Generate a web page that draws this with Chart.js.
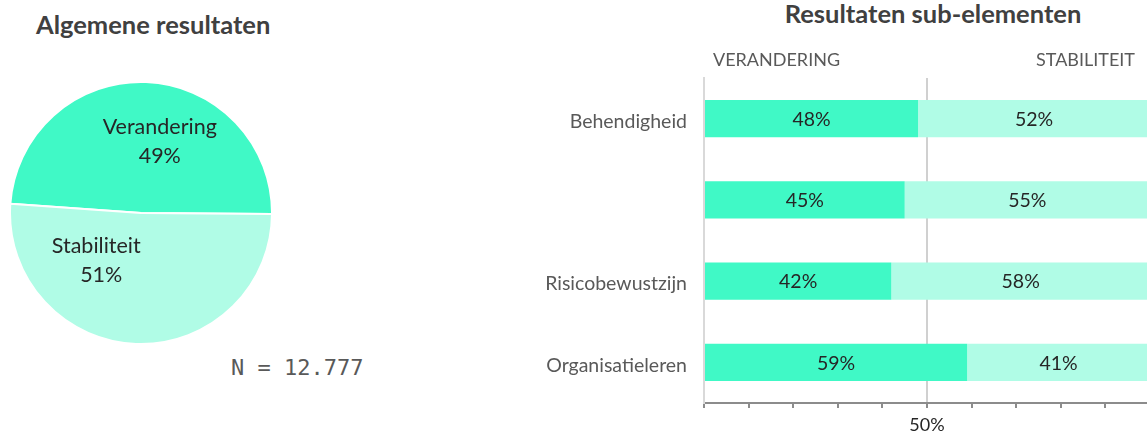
<!DOCTYPE html>
<html>
<head>
<meta charset="utf-8">
<script src="https://cdn.jsdelivr.net/npm/chart.js@4/dist/chart.umd.min.js"></script>
<style>
  html, body { margin: 0; padding: 0; background: #fff; overflow: hidden; }
  body { width: 1147px; height: 434px; position: relative; font-family: Lato, "Open Sans", sans-serif; }
  .title { position: absolute; font-weight: bold; color: #404040; font-size: 25.5px; white-space: nowrap; }
  #pieWrap { position: absolute; left: 9px; top: 81px; width: 264px; height: 264px; }
  #barWrap { position: absolute; left: 500px; top: 0; width: 660px; height: 434px; }
  #count { position: absolute; left: 231px; top: 355px; font-family: "DejaVu Sans Mono", monospace; font-size: 22px; color: #595959; white-space: nowrap; }
</style>
</head>
<body>
<div class="title" style="left:36px; top:9px;">Algemene resultaten</div>
<div class="title" style="left:933px; top:-2px; transform:translateX(-50%);">Resultaten sub-elementen</div>
<div id="pieWrap"><canvas id="pie"></canvas></div>
<div id="barWrap"><canvas id="bars"></canvas></div>
<div id="count">N = 12.777</div>

<script>
// overall split
const PIE_LABELS = ['Verandering', 'Stabiliteit'];
const PIE_VALUES = [49, 51];

// per sub-element split
const CATEGORIES = ['Behendigheid', '', 'Risicobewustzijn', 'Organisatieleren'];
const VERANDERING = [48, 45, 42, 59];
const STABILITEIT = [52, 55, 58, 41];
const SIDE_HEADERS = ['VERANDERING', 'STABILITEIT'];

const DARK = '#40F9C6';
const LIGHT = '#B0FCE6';
const TEXT = '#262626';
const FONT = 'Lato, "Open Sans", sans-serif';

// slice labels: name + percentage, placed along the slice's middle angle
const pieLabelPlugin = {
  id: 'pieLabels',
  afterDatasetsDraw(chart) {
    const { ctx } = chart;
    const meta = chart.getDatasetMeta(0);
    const shifts = [[16, 0], [-42, -25]];
    ctx.save();
    ctx.fillStyle = TEXT;
    ctx.font = '21.5px ' + FONT;
    ctx.textAlign = 'center';
    ctx.textBaseline = 'middle';
    meta.data.forEach((arc, i) => {
      const mid = (arc.startAngle + arc.endAngle) / 2;
      const r = arc.outerRadius * 0.55;
      const x = arc.x + Math.cos(mid) * r + shifts[i][0];
      const y = arc.y + Math.sin(mid) * r + shifts[i][1];
      ctx.fillText(PIE_LABELS[i], x, y - 14);
      ctx.fillText(PIE_VALUES[i] + '%', x + (i ? 5 : 0), y + 15);
    });
    ctx.restore();
  }
};

new Chart(document.getElementById('pie'), {
  type: 'pie',
  data: {
    labels: PIE_LABELS,
    datasets: [{
      data: PIE_VALUES,
      backgroundColor: [DARK, LIGHT],
      borderColor: '#ffffff',
      borderWidth: 2,
    }],
  },
  options: {
    responsive: true,
    maintainAspectRatio: false,
    animation: false,
    rotation: -86,
    plugins: { legend: { display: false }, tooltip: { enabled: false } },
  },
  plugins: [pieLabelPlugin],
});

// values inside each bar segment and the two side headers
const barTextPlugin = {
  id: 'barText',
  afterDatasetsDraw(chart) {
    const { ctx, chartArea } = chart;
    ctx.save();
    ctx.fillStyle = TEXT;
    ctx.font = '19.5px ' + FONT;
    ctx.textAlign = 'center';
    ctx.textBaseline = 'middle';
    chart.data.datasets.forEach((ds, di) => {
      chart.getDatasetMeta(di).data.forEach((bar, i) => {
        ctx.fillText(ds.data[i] + '%', (bar.x + bar.base) / 2, bar.y + 1);
      });
    });
    ctx.fillStyle = '#595959';
    ctx.font = '18px ' + FONT;
    ctx.textAlign = 'left';
    ctx.fillText(SIDE_HEADERS[0], chartArea.left + 9, chartArea.top - 18);
    ctx.textAlign = 'right';
    ctx.fillText(SIDE_HEADERS[1], chartArea.right - 15, chartArea.top - 18);
    ctx.restore();
  }
};

new Chart(document.getElementById('bars'), {
  type: 'bar',
  data: {
    labels: CATEGORIES,
    datasets: [
      { label: SIDE_HEADERS[0], data: VERANDERING, backgroundColor: DARK },
      { label: SIDE_HEADERS[1], data: STABILITEIT, backgroundColor: LIGHT },
    ],
  },
  options: {
    indexAxis: 'y',
    responsive: true,
    maintainAspectRatio: false,
    animation: false,
    layout: { padding: { top: 78, right: 10, left: 0, bottom: 0 } },
    datasets: { bar: { barPercentage: 0.46, categoryPercentage: 1 } },
    plugins: { legend: { display: false }, tooltip: { enabled: false } },
    scales: {
      x: {
        stacked: true,
        min: 0,
        max: 100,
        ticks: {
          stepSize: 10,
          autoSkip: false,
          maxRotation: 0,
          padding: 6,
          color: TEXT,
          font: { family: FONT, size: 18 },
          callback: v => (v === 50 ? '50%' : ''),
        },
        grid: {
          color: ctx => (ctx.tick && ctx.tick.value === 50 ? '#d0d0d0' : 'rgba(0,0,0,0)'),
          lineWidth: 2,
          tickColor: '#8c8c8c',
          tickLength: 5,
        },
        border: { display: true, color: '#8c8c8c', width: 2 },
        afterFit(scale) { scale.height = 31; },
      },
      y: {
        stacked: true,
        ticks: {
          color: '#595959',
          padding: 9,
          labelOffset: 3,
          font: { family: FONT, size: 19.5 },
        },
        grid: { display: false },
        border: { display: true, color: '#d9d9d9', width: 2 },
        afterFit(scale) { scale.width = 204; },
      },
    },
  },
  plugins: [barTextPlugin],
});
</script>
</body>
</html>
